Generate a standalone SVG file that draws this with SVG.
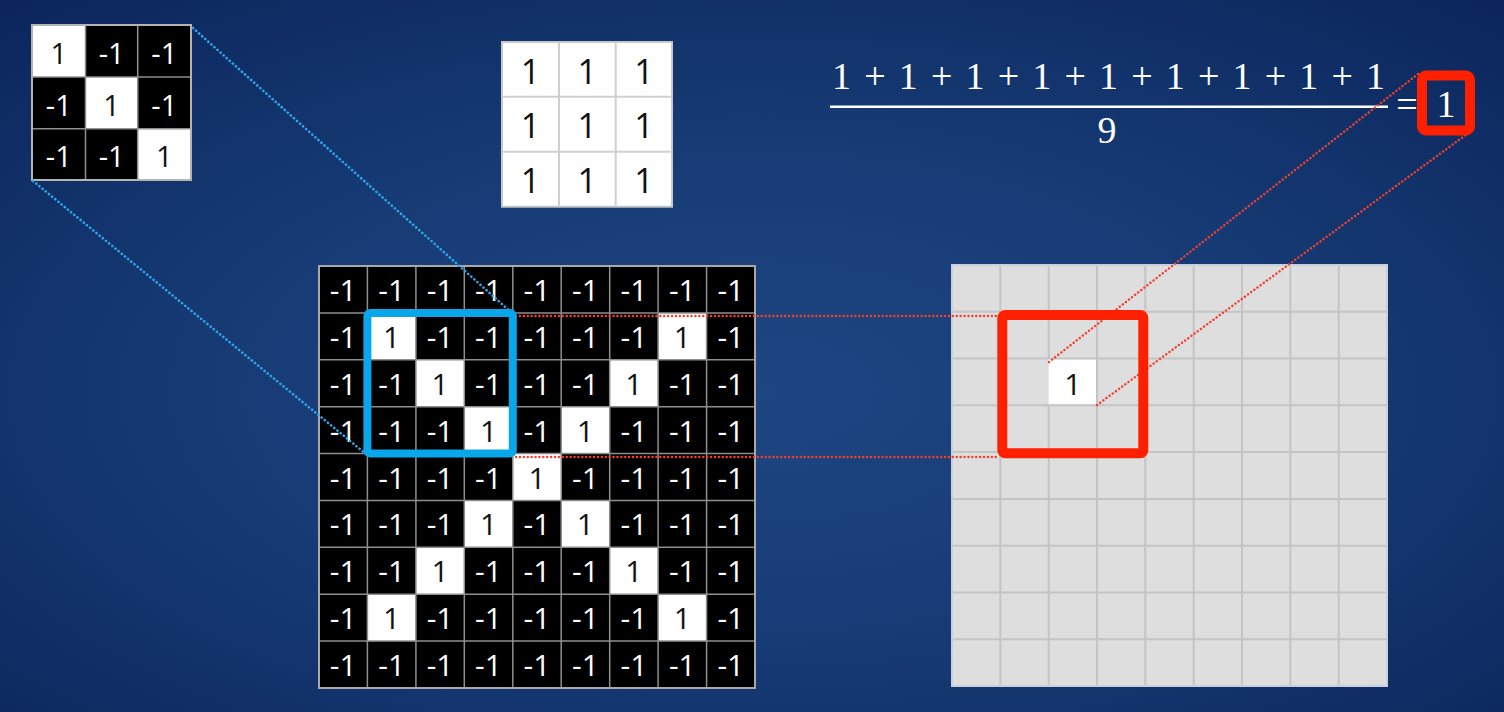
<svg xmlns="http://www.w3.org/2000/svg" width="1504" height="712" viewBox="0 0 1504 712">
<defs>
<radialGradient id="bg" cx="50%" cy="55%" r="75%">
<stop offset="0" stop-color="#1f4683"/>
<stop offset="0.5" stop-color="#163a74"/>
<stop offset="1" stop-color="#0b255a"/>
</radialGradient>
<style>
.wt{font-family:"Open Sans","Noto Sans","Liberation Sans",sans-serif;font-size:30px;fill:#fff;text-anchor:middle}
.bt{font-family:"Open Sans","Noto Sans","Liberation Sans",sans-serif;font-size:30px;fill:#111;text-anchor:middle}
.kb{font-size:29px}
.mk{font-family:"Open Sans","Noto Sans","Liberation Sans",sans-serif;font-size:34px;fill:#111;text-anchor:middle}
.math{font-family:"Liberation Serif","DejaVu Serif",serif;font-size:38px;fill:#fff}
.gl{stroke:#8e8e8e;stroke-width:1.5;fill:none}
.rg{stroke:#c4c4c4;stroke-width:2;fill:none}
.bdot{stroke:#2fa6ea;stroke-width:2.6;stroke-dasharray:0.1 4;stroke-linecap:round;fill:none}
.rdot{stroke:#f2402e;stroke-width:2.4;stroke-dasharray:0.1 3.8;stroke-linecap:round;fill:none}
</style>
</defs>
<rect x="0" y="0" width="1504" height="712" fill="url(#bg)"/>

<!-- top-left kernel -->
<g id="kernel-filter">
<rect x="32" y="25" width="159" height="155" fill="#000"/>
<rect x="32" y="25" width="53.5" height="52" fill="#fff"/>
<rect x="85.5" y="77" width="52.2" height="51.7" fill="#fff"/>
<rect x="137.7" y="128.7" width="53.3" height="51.3" fill="#fff"/>
<path class="gl" stroke="#a8a8a8" stroke-width="2" d="M85.5 25V180M137.7 25V180M32 77H191M32 128.7H191"/>
<rect x="32" y="25" width="159" height="155" fill="none" stroke="#b4b4b4" stroke-width="2"/>
<text class="bt kb" x="58.8" y="64">1</text>
<text class="wt kb" x="111.6" y="64">-1</text>
<text class="wt kb" x="164.3" y="64">-1</text>
<text class="wt kb" x="58.8" y="115.5">-1</text>
<text class="bt kb" x="111.6" y="115.5">1</text>
<text class="wt kb" x="164.3" y="115.5">-1</text>
<text class="wt kb" x="58.8" y="167">-1</text>
<text class="wt kb" x="111.6" y="167">-1</text>
<text class="bt kb" x="164.3" y="167">1</text>
</g>

<!-- middle kernel of ones -->
<g id="kernel-ones">
<rect x="502" y="42" width="170" height="164.7" fill="#fff" stroke="#c8c8c8" stroke-width="2"/>
<path d="M559 42V206.7M615.7 42V206.7M502 96.7H672M502 151.7H672" stroke="#cfcfcf" stroke-width="2" fill="none"/>
<text class="mk" x="530.5" y="83.5">1</text>
<text class="mk" x="587.3" y="83.5">1</text>
<text class="mk" x="643.9" y="83.5">1</text>
<text class="mk" x="530.5" y="138.3">1</text>
<text class="mk" x="587.3" y="138.3">1</text>
<text class="mk" x="643.9" y="138.3">1</text>
<text class="mk" x="530.5" y="193.2">1</text>
<text class="mk" x="587.3" y="193.2">1</text>
<text class="mk" x="643.9" y="193.2">1</text>
</g>

<!-- formula -->
<g id="formula">
<text class="math" x="832" y="89" textLength="553" lengthAdjust="spacing">1 + 1 + 1 + 1 + 1 + 1 + 1 + 1 + 1</text>
<rect x="830" y="105.5" width="558" height="2.5" fill="#fff"/>
<text class="math" x="1107" y="143" text-anchor="middle">9</text>
<text class="math" x="1407" y="117" text-anchor="middle">=</text>
<text class="math" x="1446" y="117" text-anchor="middle">1</text>
</g>

<!-- big input grid -->
<g id="input-grid">
<rect x="319" y="266" width="436" height="422" fill="#000"/>
<g fill="#fff">
<rect x="367.4" y="312.9" width="48.5" height="46.9"/>
<rect x="658.1" y="312.9" width="48.5" height="46.9"/>
<rect x="415.9" y="359.8" width="48.4" height="46.9"/>
<rect x="609.7" y="359.8" width="48.4" height="46.9"/>
<rect x="464.3" y="406.7" width="48.5" height="46.9"/>
<rect x="561.2" y="406.7" width="48.5" height="46.9"/>
<rect x="512.8" y="453.6" width="48.4" height="46.8"/>
<rect x="464.3" y="500.4" width="48.5" height="46.9"/>
<rect x="561.2" y="500.4" width="48.5" height="46.9"/>
<rect x="415.9" y="547.3" width="48.4" height="46.9"/>
<rect x="609.7" y="547.3" width="48.4" height="46.9"/>
<rect x="367.4" y="594.2" width="48.5" height="46.9"/>
<rect x="658.1" y="594.2" width="48.5" height="46.9"/>
</g>
<path class="gl" d="M367.4 266V688M415.9 266V688M464.3 266V688M512.8 266V688M561.2 266V688M609.7 266V688M658.1 266V688M706.6 266V688M319 312.9H755M319 359.8H755M319 406.7H755M319 453.6H755M319 500.4H755M319 547.3H755M319 594.2H755M319 641.1H755"/>
<rect x="319" y="266" width="436" height="422" fill="none" stroke="#a9a9a9" stroke-width="2"/>
<!-- row 0 -->
<text class="wt" x="343.2" y="301">-1</text><text class="wt" x="391.7" y="301">-1</text><text class="wt" x="440.1" y="301">-1</text><text class="wt" x="488.5" y="301">-1</text><text class="wt" x="537" y="301">-1</text><text class="wt" x="585.4" y="301">-1</text><text class="wt" x="633.9" y="301">-1</text><text class="wt" x="682.3" y="301">-1</text><text class="wt" x="730.8" y="301">-1</text>
<!-- row 1 -->
<text class="wt" x="343.2" y="347.9">-1</text><text class="bt" x="391.7" y="347.9">1</text><text class="wt" x="440.1" y="347.9">-1</text><text class="wt" x="488.5" y="347.9">-1</text><text class="wt" x="537" y="347.9">-1</text><text class="wt" x="585.4" y="347.9">-1</text><text class="wt" x="633.9" y="347.9">-1</text><text class="bt" x="682.3" y="347.9">1</text><text class="wt" x="730.8" y="347.9">-1</text>
<!-- row 2 -->
<text class="wt" x="343.2" y="394.8">-1</text><text class="wt" x="391.7" y="394.8">-1</text><text class="bt" x="440.1" y="394.8">1</text><text class="wt" x="488.5" y="394.8">-1</text><text class="wt" x="537" y="394.8">-1</text><text class="wt" x="585.4" y="394.8">-1</text><text class="bt" x="633.9" y="394.8">1</text><text class="wt" x="682.3" y="394.8">-1</text><text class="wt" x="730.8" y="394.8">-1</text>
<!-- row 3 -->
<text class="wt" x="343.2" y="441.7">-1</text><text class="wt" x="391.7" y="441.7">-1</text><text class="wt" x="440.1" y="441.7">-1</text><text class="bt" x="488.5" y="441.7">1</text><text class="wt" x="537" y="441.7">-1</text><text class="bt" x="585.4" y="441.7">1</text><text class="wt" x="633.9" y="441.7">-1</text><text class="wt" x="682.3" y="441.7">-1</text><text class="wt" x="730.8" y="441.7">-1</text>
<!-- row 4 -->
<text class="wt" x="343.2" y="488.6">-1</text><text class="wt" x="391.7" y="488.6">-1</text><text class="wt" x="440.1" y="488.6">-1</text><text class="wt" x="488.5" y="488.6">-1</text><text class="bt" x="537" y="488.6">1</text><text class="wt" x="585.4" y="488.6">-1</text><text class="wt" x="633.9" y="488.6">-1</text><text class="wt" x="682.3" y="488.6">-1</text><text class="wt" x="730.8" y="488.6">-1</text>
<!-- row 5 -->
<text class="wt" x="343.2" y="535.4">-1</text><text class="wt" x="391.7" y="535.4">-1</text><text class="wt" x="440.1" y="535.4">-1</text><text class="bt" x="488.5" y="535.4">1</text><text class="wt" x="537" y="535.4">-1</text><text class="bt" x="585.4" y="535.4">1</text><text class="wt" x="633.9" y="535.4">-1</text><text class="wt" x="682.3" y="535.4">-1</text><text class="wt" x="730.8" y="535.4">-1</text>
<!-- row 6 -->
<text class="wt" x="343.2" y="582.3">-1</text><text class="wt" x="391.7" y="582.3">-1</text><text class="bt" x="440.1" y="582.3">1</text><text class="wt" x="488.5" y="582.3">-1</text><text class="wt" x="537" y="582.3">-1</text><text class="wt" x="585.4" y="582.3">-1</text><text class="bt" x="633.9" y="582.3">1</text><text class="wt" x="682.3" y="582.3">-1</text><text class="wt" x="730.8" y="582.3">-1</text>
<!-- row 7 -->
<text class="wt" x="343.2" y="629.2">-1</text><text class="bt" x="391.7" y="629.2">1</text><text class="wt" x="440.1" y="629.2">-1</text><text class="wt" x="488.5" y="629.2">-1</text><text class="wt" x="537" y="629.2">-1</text><text class="wt" x="585.4" y="629.2">-1</text><text class="wt" x="633.9" y="629.2">-1</text><text class="bt" x="682.3" y="629.2">1</text><text class="wt" x="730.8" y="629.2">-1</text>
<!-- row 8 -->
<text class="wt" x="343.2" y="676.1">-1</text><text class="wt" x="391.7" y="676.1">-1</text><text class="wt" x="440.1" y="676.1">-1</text><text class="wt" x="488.5" y="676.1">-1</text><text class="wt" x="537" y="676.1">-1</text><text class="wt" x="585.4" y="676.1">-1</text><text class="wt" x="633.9" y="676.1">-1</text><text class="wt" x="682.3" y="676.1">-1</text><text class="wt" x="730.8" y="676.1">-1</text>
</g>

<!-- output grid -->
<g id="output-grid">
<rect x="952" y="265" width="435" height="421" fill="#dedede"/>
<rect x="1048.7" y="358.6" width="48.3" height="46.7" fill="#fff"/>
<path class="rg" d="M1000.3 265V686M1048.7 265V358.6M1048.7 405.3V686M1097 265V686M1145.3 265V686M1193.7 265V686M1242 265V686M1290.3 265V686M1338.7 265V686M952 311.8H1387M952 358.6H1387M952 405.3H1387M952 452.1H1387M952 498.9H1387M952 545.7H1387M952 592.4H1387M952 639.2H1387"/>
<rect x="952" y="265" width="435" height="421" fill="none" stroke="#c9cfdc" stroke-width="2"/>
<text class="bt" x="1072.8" y="394.5">1</text>
</g>

<!-- connectors -->
<g id="connectors">
<line class="bdot" x1="193" y1="28" x2="512" y2="313"/>
<line class="bdot" x1="33" y1="181" x2="366" y2="454"/>
<line class="rdot" x1="516" y1="316" x2="998" y2="316"/>
<line class="rdot" x1="516" y1="457" x2="998" y2="457"/>
<line class="rdot" x1="1049" y1="362" x2="1418" y2="74"/>
<line class="rdot" x1="1097" y1="405" x2="1467" y2="134"/>
</g>

<!-- highlight boxes -->
<g id="window-input">
<rect x="367.4" y="312.9" width="145.4" height="140.7" rx="3" fill="none" stroke="#0aa6ea" stroke-width="8"/>
</g>
<g id="window-output">
<rect x="1002.3" y="315" width="141" height="138.3" rx="3" fill="none" stroke="#ff2000" stroke-width="10"/>
</g>
<g id="result-box">
<rect x="1422" y="75.5" width="48" height="55" rx="4" fill="none" stroke="#ff2000" stroke-width="10"/>
</g>
</svg>
